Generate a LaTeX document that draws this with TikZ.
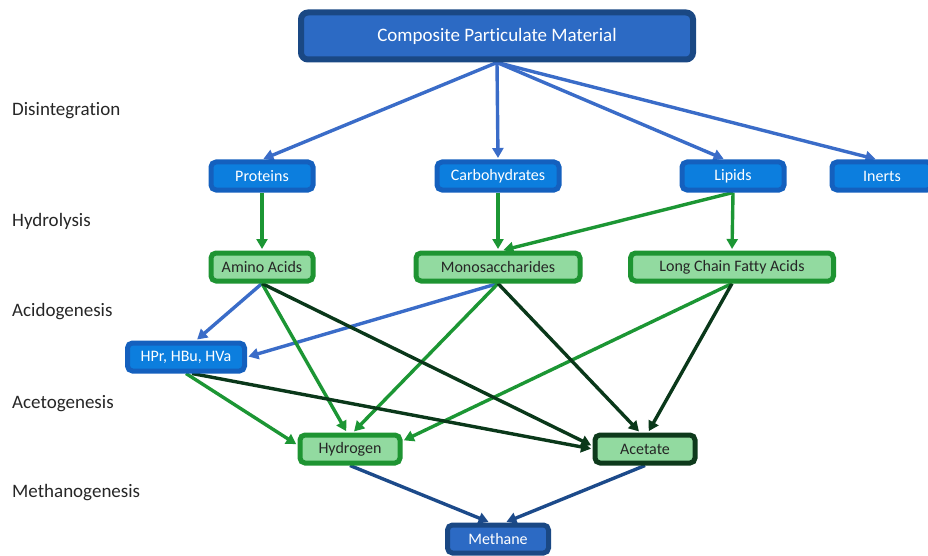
\documentclass[tikz,border=0pt]{standalone}
\usepackage{fontspec}
\setmainfont{Carlito}[Ligatures=NoCommon]
\usetikzlibrary{arrows.meta,backgrounds}
\definecolor{arrblue}{RGB}{58,108,200}
\definecolor{arrgreen}{RGB}{28,150,52}
\definecolor{arrdark}{RGB}{10,56,26}
\definecolor{arrnavy}{RGB}{28,74,138}
\definecolor{compfill}{RGB}{44,106,196}
\definecolor{compdraw}{RGB}{26,72,132}
\definecolor{bluefill}{RGB}{12,126,222}
\definecolor{bluedraw}{RGB}{20,96,190}
\definecolor{greenfill}{RGB}{146,218,160}
\definecolor{greendraw}{RGB}{30,148,50}
\definecolor{darkdraw}{RGB}{14,58,28}
\tikzset{
  x=1pt, y=-1pt,
  box/.style={rounded corners=5pt, line width=5pt, minimum height=28pt, inner sep=0pt, font=\fontsize{16}{19}\selectfont},
  bluebox/.style={box, fill=bluefill, draw=bluedraw, text=white},
  greenbox/.style={box, fill=greenfill, draw=greendraw, text=black!85},
  darkbox/.style={box, fill=greenfill, draw=darkdraw, text=black!85},
  navybox/.style={box, fill=compfill, draw=compdraw, text=white},
  stagelabel/.style={anchor=west, inner sep=0pt, font=\fontsize{19}{22}\selectfont, text=black!85},
  arr/.style={line width=3.4pt, -{Triangle[length=10pt,width=11pt]}, shorten >=1.5pt},
  ablue/.style={arr, draw=arrblue},
  agreen/.style={arr, draw=arrgreen},
  adark/.style={arr, draw=arrdark},
  anavy/.style={arr, draw=arrnavy},
}
\begin{document}
\begin{tikzpicture}
\useasboundingbox (0,0) rectangle (928,556);
% stage labels
\node[stagelabel] (l1) at (12,111) {Disintegration};
\node[stagelabel] (l2) at (12,221) {Hydrolysis};
\node[stagelabel] (l3) at (12,312) {Acidogenesis};
\node[stagelabel] (l4) at (12,404) {Acetogenesis};
\node[stagelabel] (l5) at (12,493) {Methanogenesis};
% nodes
\node[navybox, line width=6pt, minimum width=392pt, minimum height=47pt, rounded corners=7pt, font=\fontsize{19}{22}\selectfont] (comp) at (497,36) {Composite Particulate Material};
\node[bluebox, minimum width=102pt] (prot) at (262,176) {Proteins};
\node[bluebox, minimum width=122pt] (carb) at (498,176) {Carbohydrates};
\node[bluebox, minimum width=102pt] (lip) at (733,176) {Lipids};
\node[bluebox, minimum width=100pt] (inert) at (882,176) {Inerts};
\node[greenbox, minimum width=102pt] (amino) at (262,267) {Amino Acids};
\node[greenbox, minimum width=164pt] (mono) at (498,267) {Monosaccharides};
\node[greenbox, minimum width=203pt] (lcfa) at (732,267) {Long Chain Fatty Acids};
\node[bluebox, minimum width=117pt] (hpr) at (186,357) {HPr, HBu, HVa};
\node[greenbox, minimum width=100pt] (hyd) at (350,449) {Hydrogen};
\node[darkbox, minimum width=100pt] (ace) at (645,449) {Acetate};
\node[navybox, minimum width=101pt] (meth) at (498,539) {Methane};
% connectors
\begin{scope}[on background layer]
\draw[ablue] (comp.south) -- (prot.north);
\draw[ablue] (comp.south) -- (carb.north);
\draw[ablue] (comp.south) -- ([xshift=-8pt]lip.north);
\draw[ablue] (comp.south) -- ([xshift=-5pt]inert.north);
\draw[agreen] (prot.south) -- (amino.north);
\draw[agreen] (carb.south) -- (mono.north);
\draw[agreen] (lip.south) -- ([xshift=4pt]mono.north);
\draw[agreen] (lip.south) -- (lcfa.north);
\draw[ablue] (amino.south) -- ([xshift=10pt]hpr.north);
\draw[ablue] (mono.south) -- (hpr.east);
\draw[agreen] (amino.south) -- ([xshift=-3pt]hyd.north);
\draw[agreen] (mono.south) -- ([xshift=3pt]hyd.north);
\draw[agreen] (lcfa.south) -- ([yshift=8pt]hyd.east);
\draw[agreen] (hpr.south) -- ([yshift=4pt]hyd.west);
\draw[adark] ([xshift=6pt]hpr.south) -- (ace.west);
\draw[adark] (amino.south) -- ([yshift=3pt]ace.west);
\draw[adark] (mono.south) -- ([xshift=-5pt]ace.north);
\draw[adark] (lcfa.south) -- ([xshift=3pt]ace.north);
\draw[anavy] (hyd.south) -- ([xshift=-8pt]meth.north);
\draw[anavy] (ace.south) -- ([xshift=7pt]meth.north);
\end{scope}
\end{tikzpicture}
\end{document}
